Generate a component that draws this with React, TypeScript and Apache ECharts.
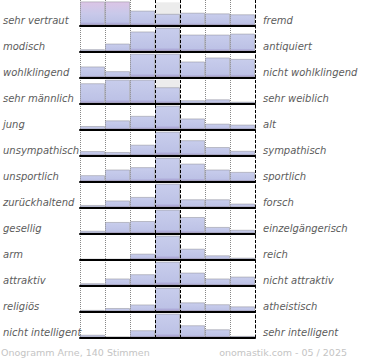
import React, { useEffect, useRef } from "react";
import * as echarts from "echarts";

const LEFT_LABELS = [
  "sehr vertraut", "modisch", "wohlklingend", "sehr männlich", "jung", "unsympathisch",
  "unsportlich", "zurückhaltend", "gesellig", "arm", "attraktiv", "religiös", "nicht intelligent",
];
const RIGHT_LABELS = [
  "fremd", "antiquiert", "nicht wohlklingend", "sehr weiblich", "alt", "sympathisch",
  "sportlich", "forsch", "einzelgängerisch", "reich", "nicht attraktiv", "atheistisch", "sehr intelligent",
];
const COLUMNS = ["1", "2", "3", "4", "5", "6", "7"];

const vertrautFremd = [104, 104, 64, 50, 55, 52, 48];
const modischAntiquiert = [9, 33, 84, 100, 71, 71, 75];
const wohlklingend = [46, 26, 100, 100, 67, 84, 78];
const maennlichWeiblich = [85, 100, 100, 68, 13, 17, 7];
const jungAlt = [14, 38, 57, 100, 46, 24, 20];
const sympathisch = [18, 14, 45, 100, 64, 35, 19];
const sportlich = [26, 50, 60, 100, 75, 50, 40];
const zurueckhaltendForsch = [10, 29, 44, 100, 34, 34, 16];
const geselligEinzelgaenger = [11, 48, 52, 100, 69, 27, 15];
const armReich = [0, 0, 24, 100, 45, 17, 7];
const attraktiv = [9, 29, 47, 100, 54, 29, 37];
const religioesAtheistisch = [6, 14, 29, 100, 38, 30, 21];
const intelligent = [11, 2, 30, 100, 51, 34, 6];

const ROWS = [
  vertrautFremd, modischAntiquiert, wohlklingend, maennlichWeiblich, jungAlt, sympathisch,
  sportlich, zurueckhaltendForsch, geselligEinzelgaenger, armReich, attraktiv, religioesAtheistisch, intelligent,
];
const CENTER_BACKGROUND = [null, null, null, 100, null, null, null];

const FOOTER_LEFT = "Onogramm Arne, 140 Stimmen";
const FOOTER_RIGHT = "onomastik.com - 05 / 2025";

const ROW_H = 26;
const PLOT_LEFT = 80;
const PLOT_W = 175;
const LABEL_FONT = { fontFamily: "DejaVu Sans", fontStyle: "italic" as const, fontSize: 10, color: "#5c5c5c" };

const blueGrad = () =>
  new echarts.graphic.LinearGradient(0, 0, 0, 1, [
    { offset: 0, color: "#c8cdec" },
    { offset: 0.86, color: "#bdc2e6" },
    { offset: 1, color: "#a39ace" },
  ]);
const pinkGrad = () =>
  new echarts.graphic.LinearGradient(0, 0, 0, 1, [
    { offset: 0, color: "#dcc5e6" },
    { offset: 0.5, color: "#c9c9ea" },
    { offset: 0.88, color: "#bdc2e6" },
    { offset: 1, color: "#a39ace" },
  ]);

function buildOption() {
  const grid: any[] = [];
  const xAxis: any[] = [];
  const yAxis: any[] = [];
  const series: any[] = [];

  ROWS.forEach((row, i) => {
    grid.push({ left: PLOT_LEFT, width: PLOT_W, top: ROW_H * i - 0.7, height: ROW_H });
    xAxis.push({
      type: "category",
      gridIndex: i,
      data: COLUMNS,
      boundaryGap: true,
      z: 4,
      axisLine: { show: true, lineStyle: { color: "#000", width: 2 } },
      axisTick: { show: false },
      axisLabel: { show: false },
      splitLine: { show: false },
    });
    yAxis.push({ type: "value", gridIndex: i, min: 0, max: 110, show: false });
    series.push({
      type: "bar",
      xAxisIndex: i,
      yAxisIndex: i,
      data: CENTER_BACKGROUND,
      barWidth: "100%",
      barGap: "-100%",
      silent: true,
      z: 1,
      itemStyle: { color: "#ececec" },
    });
    series.push({
      type: "bar",
      xAxisIndex: i,
      yAxisIndex: i,
      barWidth: "100%",
      barGap: "-100%",
      z: 2,
      data: row.map((v) => ({
        value: Math.min(v, 104),
        itemStyle: { color: v > 100 ? pinkGrad() : blueGrad() },
      })),
      itemStyle: { borderColor: "rgba(130,130,140,0.45)", borderWidth: 1 },
    });
  });

  const frame = ROWS.length;
  grid.push({ left: PLOT_LEFT, width: PLOT_W, top: 0, height: ROW_H * ROWS.length });
  xAxis.push({
    type: "category",
    gridIndex: frame,
    data: COLUMNS,
    boundaryGap: true,
    z: 0,
    axisLine: { show: false },
    axisTick: { show: false },
    axisLabel: { show: false },
    splitLine: { show: true, interval: 0, lineStyle: { type: "dotted", color: "#888", width: 1 } },
  });
  xAxis.push({
    type: "category",
    gridIndex: frame,
    data: COLUMNS,
    boundaryGap: true,
    z: 6,
    axisLine: { show: false },
    axisTick: { show: false },
    axisLabel: { show: false },
    splitLine: {
      show: true,
      interval: (idx: number) => idx === 3 || idx === 4,
      lineStyle: { type: [3, 2], color: "#000", width: 1 },
    },
  });
  yAxis.push({ type: "value", gridIndex: frame, min: 0, max: 1, show: false });

  const lab = frame + 1;
  grid.push({ left: PLOT_LEFT, width: PLOT_W, top: 7, height: ROW_H * ROWS.length });
  xAxis.push({ type: "value", gridIndex: lab, min: 0, max: 1, show: false });
  yAxis.push({
    type: "category",
    gridIndex: lab,
    position: "left",
    inverse: true,
    data: LEFT_LABELS,
    axisLine: { show: false },
    axisTick: { show: false },
    splitLine: { show: false },
    axisLabel: { interval: 0, margin: 79, align: "left", ...LABEL_FONT },
  });
  yAxis.push({
    type: "category",
    gridIndex: lab,
    position: "right",
    inverse: true,
    data: RIGHT_LABELS,
    axisLine: { show: false },
    axisTick: { show: false },
    splitLine: { show: false },
    axisLabel: { interval: 0, margin: 8, align: "left", ...LABEL_FONT },
  });

  return {
    animation: false,
    backgroundColor: "#fff",
    grid,
    xAxis,
    yAxis,
    series,
    graphic: [
      {
        type: "text",
        left: 1,
        top: 347,
        style: { text: FOOTER_LEFT, fill: "#c4c4c4", font: '9.5px "DejaVu Sans"' },
      },
      {
        type: "text",
        right: 23,
        top: 347,
        style: { text: FOOTER_RIGHT, fill: "#c4c4c4", font: '9.5px "DejaVu Sans"' },
      },
    ],
  };
}

export default function App() {
  const ref = useRef<HTMLDivElement>(null);
  useEffect(() => {
    if (!ref.current) return;
    const chart = echarts.init(ref.current, undefined, { renderer: "svg" });
    chart.setOption(buildOption() as any);
    return () => chart.dispose();
  }, []);
  return (
    <div
      ref={ref}
      style={{ position: "fixed", left: 0, top: 0, width: 370, height: 360 }}
    />
  );
}
